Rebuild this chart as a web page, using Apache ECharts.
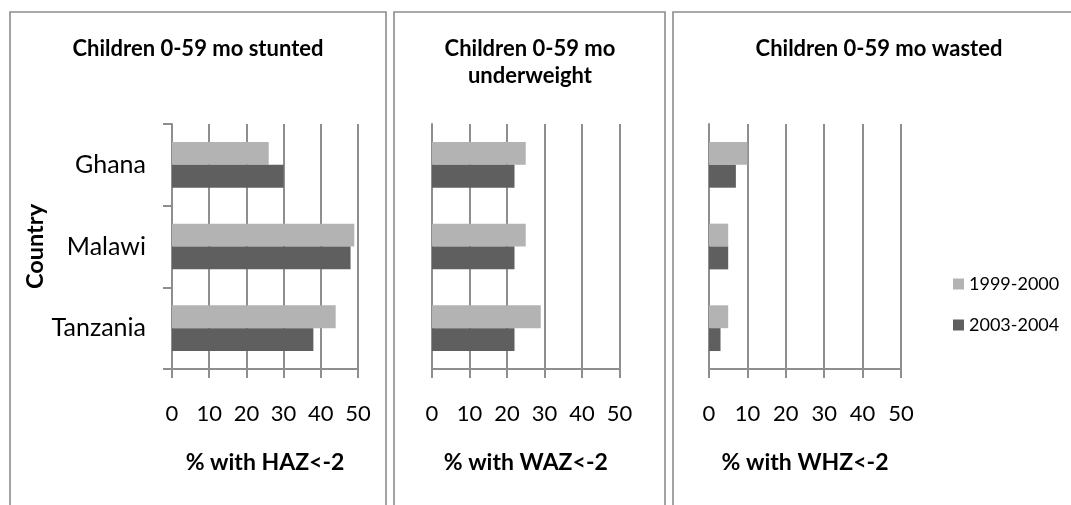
<!DOCTYPE html>
<html>
<head>
<meta charset="utf-8">
<script src="https://cdn.jsdelivr.net/npm/echarts@6/dist/echarts.min.js"></script>
<style>
html,body{margin:0;padding:0;background:#fff;}
#chart{width:1071px;height:505px;}
</style>
</head>
<body>
<div id="chart"></div>
<script>
const countries = ['Ghana', 'Malawi', 'Tanzania'];
const seriesNames = ['1999-2000', '2003-2004'];
const panelTitles = ['Children 0-59 mo stunted', 'Children 0-59 mo\nunderweight', 'Children 0-59 mo wasted'];
const axisNames = ['% with HAZ<-2', '% with WAZ<-2', '% with WHZ<-2'];
const stunted1999 = [26, 49, 44];
const stunted2003 = [30, 48, 38];
const underweight1999 = [25, 25, 29];
const underweight2003 = [22, 22, 22];
const wasted1999 = [10, 5, 5];
const wasted2003 = [7, 5, 3];
const xTicks = [0, 10, 20, 30, 40, 50];

const panelData = [
  [stunted1999, stunted2003],
  [underweight1999, underweight2003],
  [wasted1999, wasted2003]
];
const colors = ['#b3b3b3', '#5f5f5f'];
const lineColor = '#8e8e8e';
const FONT = 'Lato';

const grids = [
  {left: 172, top: 124, width: 186, height: 245},
  {left: 432, top: 124, width: 187.5, height: 245},
  {left: 709, top: 124, width: 192, height: 245}
];
const titleCenters = [{x: 198, y: 35}, {x: 530, y: 35}, {x: 879, y: 35}];

const xAxes = grids.map((g, i) => ({
  type: 'value', gridIndex: i, min: xTicks[0], max: xTicks[xTicks.length - 1], interval: 10,
  axisLine: {show: true, lineStyle: {color: lineColor, width: 2}},
  axisTick: {show: true, length: 9, lineStyle: {color: lineColor, width: 2}},
  splitLine: {show: true, lineStyle: {color: lineColor, width: 2}},
  axisLabel: {fontFamily: FONT, fontSize: 22, color: '#000', margin: 34},
  name: axisNames[i], nameLocation: 'middle', nameGap: 82,
  nameTextStyle: {fontFamily: FONT, fontSize: 23, fontWeight: 'bold', color: '#000'}
}));
const yAxes = grids.map((g, i) => ({
  type: 'category', gridIndex: i, data: countries, inverse: true,
  axisLine: {show: true, lineStyle: {color: lineColor, width: 2}},
  axisTick: {show: i === 0, length: 9, lineStyle: {color: lineColor, width: 2}},
  splitLine: {show: false},
  axisLabel: {show: i === 0, fontFamily: FONT, fontSize: 25, color: '#000', margin: 26},
  name: i === 0 ? 'Country' : '', nameLocation: 'middle', nameGap: 121,
  nameTextStyle: {fontFamily: FONT, fontSize: 23.5, fontWeight: 'bold', color: '#000'}
}));

const series = [];
panelData.forEach((pair, i) => {
  pair.forEach((vals, s) => {
    series.push({
      type: 'bar', name: seriesNames[s], xAxisIndex: i, yAxisIndex: i,
      data: vals, barGap: '0%', barCategoryGap: '44%',
      itemStyle: {color: colors[s]}, silent: true
    });
  });
});

const option = {
  animation: false,
  backgroundColor: '#fff',
  title: panelTitles.map((t, i) => ({
    text: t, left: titleCenters[i].x, top: titleCenters[i].y, textAlign: 'center', padding: 0,
    textStyle: {fontFamily: FONT, fontSize: 22, fontWeight: 'bold', color: '#000', lineHeight: 27}
  })),
  legend: {
    orient: 'vertical', left: 948, top: 270, itemWidth: 11, itemHeight: 11, itemGap: 23,
    icon: 'rect', data: seriesNames,
    textStyle: {fontFamily: FONT, fontSize: 18, color: '#000'}
  },
  graphic: [
    {type: 'polyline', shape: {points: [[10, 505], [10, 12], [386, 12], [386, 505]]}, style: {stroke: '#8c8c8c', lineWidth: 1.6, fill: null}, silent: true},
    {type: 'polyline', shape: {points: [[394, 505], [394, 12], [665, 12], [665, 505]]}, style: {stroke: '#8c8c8c', lineWidth: 1.6, fill: null}, silent: true},
    {type: 'polyline', shape: {points: [[673, 505], [673, 12], [1071, 12]]}, style: {stroke: '#8c8c8c', lineWidth: 1.6, fill: null}, silent: true}
  ],
  grid: grids,
  xAxis: xAxes,
  yAxis: yAxes,
  series: series
};

const chart = echarts.init(document.getElementById('chart'), null, {renderer: 'canvas'});
chart.setOption(option);
</script>
</body>
</html>
